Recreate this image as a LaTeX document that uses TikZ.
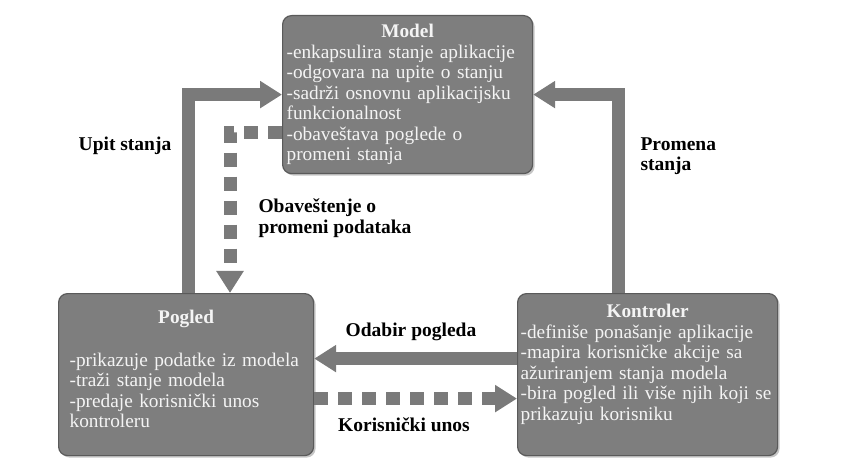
\documentclass[tikz,border=0pt]{standalone}
\usepackage{fontspec}
\setmainfont{Liberation Serif}
\usetikzlibrary{positioning, arrows.meta, shadows}
\tikzset{>=latex}
\usepackage{xcolor}
\definecolor{boxgray}{HTML}{7E7E7E}
\definecolor{boxedge}{HTML}{5A5A5A}
\definecolor{arrowgray}{HTML}{7A7A7A}
\definecolor{boxtext}{HTML}{F4F4F4}

\tikzset{
    mvcbox/.style={draw=boxedge, line width=1.2pt, fill=boxgray, rounded corners=9pt,
        text=boxtext, anchor=north west, font=\fontsize{19.3}{20.5}\selectfont,
        drop shadow={shadow xshift=2pt, shadow yshift=-2pt, opacity=.45}},
    flowarrow/.style={draw=arrowgray, line width=13pt,
        -{Triangle[length=22pt, width=26pt]}},
    notearrow/.style={flowarrow, dash pattern=on 14pt off 10pt},
    flowlabel/.style={font=\bfseries\fontsize{19.5}{20.5}\selectfont, align=left}
}

\begin{document}
\begin{tikzpicture}[x=1pt,y=-1pt]

    \useasboundingbox (0,0) rectangle (841,473);

    %the three parts of the pattern
    \node[mvcbox, text width=242pt, minimum height=158pt, inner xsep=4pt] (model) at (282,15)
        {\centering\textbf{Model}\par\raggedright
        -enkapsulira stanje aplikacije\\
        -odgovara na upite o stanju\\
        -sadrži osnovnu aplikacijsku\\
        funkcionalnost\\
        -obaveštava poglede o\\
        promeni stanja\par};
    \node[mvcbox, text width=233pt, minimum height=162pt, inner xsep=11pt] (pogled) at (58,293)
        {\centering\textbf{Pogled}\par\raggedright
        \vspace{22pt}
        -prikazuje podatke iz modela\\
        -traži stanje modela\\
        -predaje korisnički unos\\
        kontroleru\par\vspace{11pt}};
    \node[mvcbox, text width=254pt, minimum height=162pt, inner xsep=3pt] (kontroler) at (517,293)
        {\centering\textbf{Kontroler}\par\raggedright
        -definiše ponašanje aplikacije\\
        -mapira korisničke akcije sa\\
        ažuriranjem stanja modela\\
        -bira pogled ili više njih koji se\\
        prikazuju korisniku\par\vspace{20pt}};

    %connectors
    \draw[flowarrow] ([xshift=130pt]pogled.north west) |- (model.west);
    \draw[notearrow] ([yshift=-38pt]model.west) -| ([xshift=172pt]pogled.north west);
    \draw[flowarrow] ([xshift=101pt]kontroler.north west) |- (model.east);
    \draw[flowarrow] ([yshift=16pt]kontroler.west) -- ([yshift=16pt]pogled.east);
    \draw[notearrow] ([yshift=-24pt]pogled.east) -- ([yshift=-24pt]kontroler.west);

    %labels
    \node[flowlabel] (upit) at (125,146) {Upit stanja};
    \node[flowlabel, anchor=west] (obav) at (255,218) {Obaveštenje o\\promeni podataka};
    \node[flowlabel, anchor=west] (promena) at (637,156) {Promena\\stanja};
    \node[flowlabel] (odabir) at (411,332) {Odabir pogleda};
    \node[flowlabel] (unos) at (404,425) {Korisnički unos};

\end{tikzpicture}
\end{document}
